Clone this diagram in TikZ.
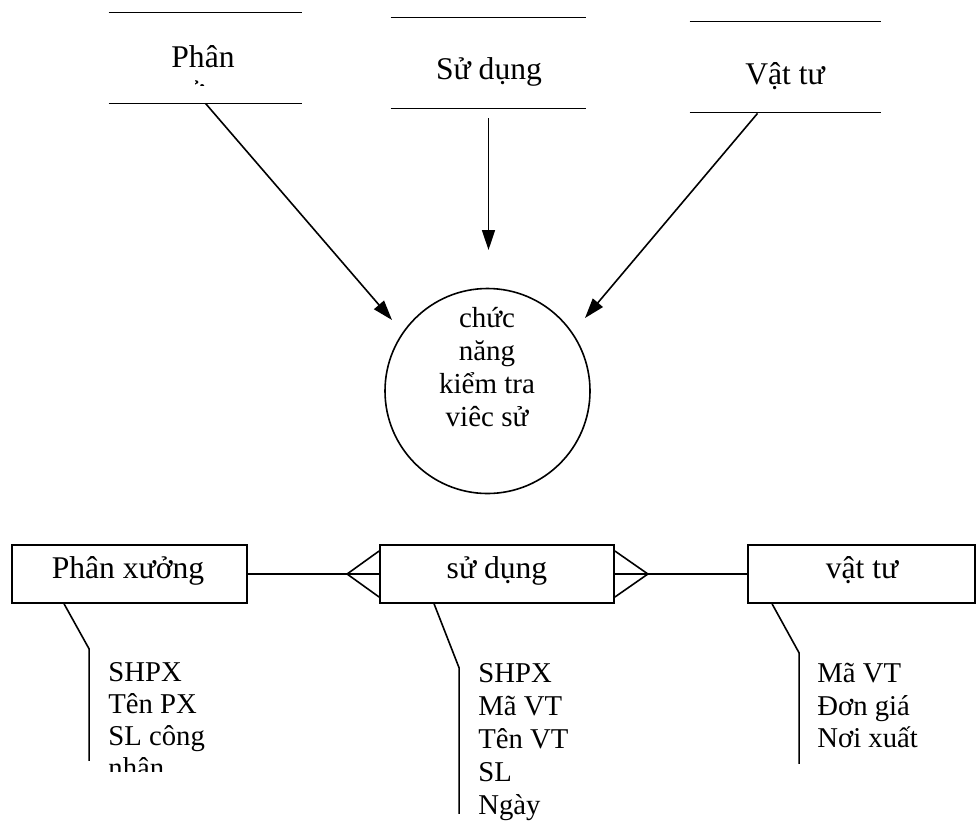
\documentclass[tikz,border=0pt]{standalone}
\usepackage{fontspec}
\setmainfont{Liberation Serif}
\usetikzlibrary{arrows.meta,calc}
\begin{document}
\begin{tikzpicture}[x=0.5pt,y=-0.5pt,
  ln/.style={line width=0.8pt},
  arr/.style={ln,-{Triangle[length=10pt,width=6.5pt]}},
  txt/.style={inner sep=0pt,anchor=base,font=\fontsize{14.5}{16.5}\selectfont},
  big/.style={inner sep=0pt,anchor=base,font=\fontsize{15.8}{18}\selectfont},
  attr/.style={inner sep=0pt,anchor=base west,font=\fontsize{14.35}{16.5}\selectfont},
  store/.style={rectangle,inner sep=0pt,minimum height=45pt},
  ent/.style={draw,line width=0.9pt,inner sep=0pt,rectangle,minimum height=29pt},
  bubble/.style={draw,circle,line width=0.8pt,inner sep=0pt,minimum size=102.5pt}]
\useasboundingbox (0,0) rectangle (978,820);
% data stores
\node[store,minimum width=96.5pt] (s1) at (205.5,58) {};
\node[store,minimum width=97.5pt] (s2) at (488.5,63) {};
\node[store,minimum width=95.5pt] (s3) at (785.5,67) {};
\foreach \s in {s1,s2,s3}{
  \draw[ln] (\s.north west) -- (\s.north east);
  \draw[ln] (\s.south west) -- (\s.south east);
}
\node[big] (t1) at (203,67) {Phân};
\begin{scope}
  \clip (195,74) rectangle (212,85);
  \node[big] (t1b) at (195,102) {xưởng};
\end{scope}
\node[big] (t2) at (489,79) {Sử dụng};
\node[big] (t3) at (785,84) {Vật tư};
% process bubble
\node[bubble] (c) at (487.5,391) {};
\node[txt] (c1) at (487,327) {chức};
\node[txt] (c2) at (487,360) {năng};
\node[txt] (c3) at (487,393) {kiểm tra};
\node[txt] (c4) at (487,426) {viêc sử};
% arrows
\coordinate (a1) at (392,320);
\coordinate (a2) at (488.5,250);
\coordinate (a3) at (585,318);
\draw[arr] (s1.south) -- (a1);
\draw[arr] ($(s2.south)+(0,10)$) -- (a2);
\draw[arr] ($(s3.south)+(-28,1)$) -- (a3);
% entities
\node[ent,minimum width=117.5pt] (e1) at (129.5,574) {};
\node[ent,minimum width=117pt] (e2) at (497,574) {};
\node[ent,minimum width=113.5pt] (e3) at (861.5,574) {};
\node[big] (l1) at (128,578) {Phân xưởng};
\node[big] (l2) at (497,578) {sử dụng};
\node[big] (l3) at (862,578) {vật tư};
\draw[ln] (e1.east) -- (e2.west);
\draw[ln] (e2.east) -- (e3.west);
\coordinate (cf1) at ($(e2.west)+(-32,0)$);
\coordinate (cf2) at ($(e2.east)+(33,0)$);
\draw[ln] ($(e2.west)+(0,-23)$) -- (cf1) -- ($(e2.west)+(0,23)$);
\draw[ln] ($(e2.east)+(0,-23)$) -- (cf2) -- ($(e2.east)+(0,23)$);
% attribute callouts
\draw[ln] ($(e1.south west)+(53,0)$) -- ++(25,45) -- ++(0,112);
\draw[ln] ($(e2.south west)+(55,0)$) -- ++(25,64) -- ++(0,146);
\draw[ln] ($(e3.south west)+(25,0)$) -- ++(27,49) -- ++(0,111);
\node[attr] (p1) at (108,681) {SHPX};
\node[attr] (p2) at (108,713) {Tên PX};
\node[attr] (p3) at (108,745) {SL công};
\begin{scope}
  \clip (100,750) rectangle (300,771);
  \node[attr] (p4) at (108,777) {nhân};
\end{scope}
\node[attr] (u1) at (478,682) {SHPX};
\node[attr] (u2) at (478,715) {Mã VT};
\node[attr] (u3) at (478,748) {Tên VT};
\node[attr] (u4) at (478,781) {SL};
\node[attr] (u5) at (478,814) {Ngày};
\node[attr] (v1) at (817,682) {Mã VT};
\node[attr] (v2) at (817,715) {Đơn giá};
\node[attr] (v3) at (817,747) {Nơi xuất};
\end{tikzpicture}
\end{document}
